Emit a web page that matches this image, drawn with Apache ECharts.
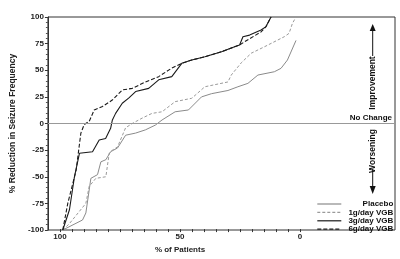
<!DOCTYPE html>
<html>
<head>
<meta charset="utf-8">
<style>
  html, body { margin: 0; padding: 0; background: #fff; }
  #main { width: 400px; height: 259px; }
</style>
<script src="https://cdn.jsdelivr.net/npm/echarts@6/dist/echarts.min.js"></script>
</head>
<body>
<div id="main"></div>
<script>
/* data: [% of patients, % reduction in seizure frequency] */
var seriesNames = ['Placebo', '1g/day VGB', '3g/day VGB', '6g/day VGB'];
var placebo = [[100,-100],[91.7,-90.6],[90.3,-84],[88.2,-51.5],[85.4,-48],[84,-36],[81.9,-34],[79.9,-26.5],[77,-23],[73.6,-11],[69.4,-9],[65.3,-6],[61.1,-1.5],[58.3,3.3],[52.8,11],[47.2,12.7],[41.7,25],[37.5,28],[30.6,31],[26.4,34.5],[22.2,37.7],[18,45.5],[11.1,48.6],[8.3,51.8],[5.6,59.6],[2,78]];
var g1 = [[100,-100],[97.2,-94],[90.3,-75],[88.9,-59],[86.1,-51.5],[81.9,-50],[80.5,-28],[79.2,-25],[77,-22],[73.6,-4],[70.8,0],[66.7,5],[62.5,9.5],[58.3,11],[52.8,20.5],[45.8,23.7],[40.3,34.5],[30.6,39],[29.2,45.5],[25,57],[20.8,66],[15.3,72],[6.9,81.5],[4.9,84.7],[3.5,94],[2,100]];
var g3 = [[100,-100],[97.2,-81],[95.1,-50],[93,-28],[87.5,-26.5],[84.7,-15.5],[82,-14],[79.9,-4.5],[79.2,3],[77.8,9.5],[75,19],[72.2,24],[69.4,30],[63.9,33],[59.7,41],[54.2,44],[50,56.5],[45.8,59.6],[40.3,62.7],[33.3,67.4],[27.8,72],[25.7,73.7],[24.3,81.5],[21.5,83],[16.7,87.8],[14.6,91],[12.5,100]];
var g6 = [[100,-100],[97.9,-75],[94.4,-44],[92.4,-9],[91,-1],[88.9,2],[86.8,12.7],[83.3,16],[79.2,22],[75,31.5],[70.8,33],[65.3,39],[59.7,44],[54.2,52],[50,56.5],[45.8,59.6],[40.3,62.7],[33.3,67.4],[27.8,72],[25.7,73.7],[23.6,76.8],[16.7,86],[14.6,91],[12.5,100]];
var xTicks = [100, 50, 0];

var font = 'Liberation Sans, Arial, sans-serif';
var myChart = echarts.init(document.getElementById('main'), null, {renderer: 'canvas'});

function lineSeries(name, data, color, type, width) {
    return {
        name: name,
        type: 'line',
        data: data,
        symbol: 'none',
        showSymbol: false,
        xAxisIndex: 0,
        yAxisIndex: 0,
        lineStyle: {color: color, type: type, width: width},
        itemStyle: {color: color},
        animation: false
    };
}

var series = [
    lineSeries(seriesNames[0], placebo, '#8a8a8a', 'solid', 1),
    lineSeries(seriesNames[1], g1, '#9a9a9a', [3, 2], 1),
    lineSeries(seriesNames[2], g3, '#1a1a1a', 'solid', 1.1),
    lineSeries(seriesNames[3], g6, '#1a1a1a', [4, 2], 1.1)
];
/*零线*/
series[0].markLine = {
    silent: true,
    symbol: 'none',
    label: {show: false},
    lineStyle: {color: '#999', type: 'solid', width: 1},
    data: [{yAxis: 0}]
};

var option = {
    animation: false,
    textStyle: {fontFamily: font},
    grid: [
        {left: 45, right: 5, top: 17, bottom: 29, show: true, borderColor: '#333', borderWidth: 1},
        {left: 60, right: 100, top: 17, bottom: 29}
    ],
    xAxis: [
        {gridIndex: 0, type: 'value', inverse: true, min: -39.6, max: 106.25,
         axisLine: {show: false, onZero: false}, axisTick: {show: false}, axisLabel: {show: false}, splitLine: {show: false}},
        {gridIndex: 1, type: 'value', inverse: true, min: 0, max: 100, interval: 50,
         name: '% of Patients', nameLocation: 'middle', nameGap: 15,
         nameTextStyle: {fontSize: 8, fontWeight: 'bold', color: '#222', fontFamily: font},
         axisLine: {show: false, onZero: false},
         axisTick: {show: true, length: 3, lineStyle: {color: '#333'}},
         minorTick: {show: true, splitNumber: 10, length: 3, lineStyle: {color: '#333'}},
         axisLabel: {margin: 4, fontSize: 8, fontWeight: 'bold', color: '#222', fontFamily: font,
                     formatter: function (v) { return xTicks.indexOf(v) >= 0 ? v : ''; }},
         splitLine: {show: false}}
    ],
    yAxis: [
        {gridIndex: 0, type: 'value', min: -100, max: 100, interval: 25,
         name: '% Reduction in Seizure Frequency', nameLocation: 'middle', nameGap: 27,
         nameTextStyle: {fontSize: 8.5, fontWeight: 'bold', color: '#222', fontFamily: font},
         axisLine: {show: true, onZero: false, lineStyle: {color: '#333'}},
         axisTick: {show: true, length: 3, lineStyle: {color: '#333'}},
         minorTick: {show: true, splitNumber: 5, length: 2, lineStyle: {color: '#555'}},
         axisLabel: {margin: 4, fontSize: 8, fontWeight: 'bold', color: '#222', fontFamily: font},
         splitLine: {show: false}},
        {gridIndex: 1, type: 'value', show: false, min: -100, max: 100,
         axisLine: {show: false, onZero: false}}
    ],
    legend: {
        orient: 'vertical',
        left: 316.7,
        top: 200,
        padding: 0,
        itemWidth: 24,
        itemHeight: 6,
        itemGap: 0.4,
        data: seriesNames,
        itemStyle: {color: 'rgba(0,0,0,0)', borderWidth: 0},
        lineStyle: {width: 1.2},
        textStyle: {
            fontSize: 8, fontFamily: font, color: '#111', lineHeight: 6.5,
            rich: {t: {width: 47, align: 'right', fontSize: 8, fontWeight: 'bold', lineHeight: 6.5, fontFamily: font, color: '#111'}}
        },
        formatter: function (name) { return '{t|' + name + '}'; }
    },
    graphic: [
        {type: 'text', x: 372.7, y: 83, rotation: Math.PI / 2,
         style: {text: 'Improvement', font: 'bold 8.5px ' + font, fill: '#111', textAlign: 'center', textVerticalAlign: 'middle'}},
        {type: 'line', shape: {x1: 372.7, y1: 56, x2: 372.7, y2: 30}, style: {stroke: '#111', lineWidth: 1}},
        {type: 'polygon', shape: {points: [[369.7, 31], [375.7, 31], [372.7, 24]]}, style: {fill: '#111'}},
        {type: 'text', x: 372.7, y: 151, rotation: Math.PI / 2,
         style: {text: 'Worsening', font: 'bold 8.5px ' + font, fill: '#111', textAlign: 'center', textVerticalAlign: 'middle'}},
        {type: 'line', shape: {x1: 372.7, y1: 169, x2: 372.7, y2: 187}, style: {stroke: '#111', lineWidth: 1}},
        {type: 'polygon', shape: {points: [[369.7, 186], [375.7, 186], [372.7, 194]]}, style: {fill: '#111'}},
        {type: 'text', x: 392, y: 118,
         style: {text: 'No Change', font: 'bold 8px ' + font, fill: '#111', textAlign: 'right', textVerticalAlign: 'middle'}}
    ],
    series: series
};

myChart.setOption(option);
</script>
</body>
</html>
